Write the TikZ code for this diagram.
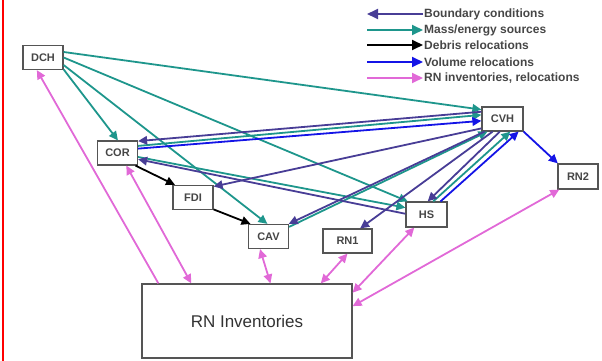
\documentclass[tikz,border=0pt]{standalone}
\usepackage{fontspec}
\setmainfont{Liberation Sans}
\usetikzlibrary{arrows.meta}
\definecolor{bcslate}{RGB}{72,61,150}
\definecolor{msteal}{RGB}{30,150,140}
\definecolor{vrblue}{RGB}{20,20,230}
\definecolor{rnpink}{RGB}{225,105,215}
\definecolor{boxgray}{RGB}{85,85,85}
\definecolor{txtgray}{RGB}{70,70,70}

\begin{document}
\begin{tikzpicture}[x=1pt,y=-1pt,
    comp/.style={draw=boxgray,line width=1.2pt,fill=white,minimum width=40pt,
                 minimum height=24pt,inner sep=0pt,text=txtgray,
                 font=\fontsize{11}{12}\selectfont\bfseries},
    legtxt/.style={anchor=west,inner sep=1pt,text=txtgray,
                   font=\fontsize{12}{13}\selectfont\bfseries},
    flow/.style={line width=1.8pt,-{Triangle[length=9pt,width=8.5pt]}},
    bound/.style={flow,bcslate},
    mass/.style={flow,msteal},
    debris/.style={flow,black},
    volume/.style={flow,vrblue},
    rnflow/.style={line width=1.8pt,rnpink,
                   {Triangle[length=9pt,width=8.5pt]}-{Triangle[length=9pt,width=8.5pt]}},
    legtip/.style={-{Triangle[length=11pt,width=10pt]}}]
    \useasboundingbox (0,0) rectangle (602,361);
    \draw[red,line width=2.5pt] (3,0) -- (3,361);
    % Components
    \node[comp] (dch) at (43,57.5) {DCH};
    \node[comp] (cor) at (117.5,153) {COR};
    \node[comp] (fdi) at (193,197.5) {FDI};
    \node[comp] (cav) at (268.5,236.5) {CAV};
    \node[comp,minimum width=49pt] (rn1) at (347.5,241) {RN1};
    \node[comp,minimum width=41pt,minimum height=25pt] (hs) at (426.5,214.5) {HS};
    \node[comp,minimum width=41pt] (cvh) at (502.5,119) {CVH};
    \node[comp,minimum height=25pt] (rn2) at (578,176.5) {RN2};
    \node[draw=boxgray,line width=1.2pt,minimum width=210pt,minimum height=74pt,
          text=black!80,font=\fontsize{17}{20}\selectfont] (rninv) at (247,321)
        {RN Inventories};
    % RN inventories, relocations
    \draw[line width=1.8pt,rnpink,-{Triangle[length=9pt,width=8.5pt]}]
        (rninv.157) -- (dch.244);
    \draw[rnflow] (cor.-55) -- (rninv.146);
    \draw[rnflow] (cav.236) -- (rninv.58);
    \draw[rnflow] (rn1.south) -- (rninv.27.5);
    \draw[rnflow] (hs.227) -- (rninv.15);
    \draw[rnflow] (rn2.215) -- (rninv.8);
    % Mass/energy sources
    \draw[mass] (dch.15) -- (cvh.156);
    \draw[mass] (dch.east) -- (hs.145);
    \draw[mass] (dch.-30) -- (cor.88);
    \draw[mass] (dch.-20) -- (cav.95);
    \draw[mass] (cor.19) -- (cvh.169);
    \draw[mass] (cor.-11) -- (hs.162);
    \draw[mass] (cav.25) -- (cvh.220);
    \draw[mass] (hs.63) -- (cvh.-58);
    % Boundary conditions
    \draw[bound] (cvh.161) -- (cor.30);
    \draw[bound] (hs.178) -- (cor.-17);
    \draw[bound] (cvh.204) -- (fdi.28);
    \draw[bound] (cvh.215) -- (cav.32);
    \draw[bound] (cvh.232) -- (rn1.45);
    \draw[bound] (cvh.258) -- (hs.85);
    % Debris relocations
    \draw[debris] (cor.-35) -- (fdi.145);
    \draw[debris] (fdi.-30) -- (cav.145);
    % Volume relocations
    \draw[volume] (cor.12) -- (cvh.185);
    \draw[volume] (hs.43) -- (cvh.-38);
    \draw[volume] (cvh.south east) -- (rn2.147);
    % Legend
    \node[legtxt] (lbc) at (423,14) {Boundary conditions};
    \node[legtxt] (lms) at (423,30) {Mass/energy sources};
    \node[legtxt] (ldr) at (423,45) {Debris relocations};
    \node[legtxt] (lvr) at (423,62) {Volume relocations};
    \node[legtxt] (lrn) at (423,78) {RN inventories, relocations};
    \draw[bound,legtip] (lbc.west) -- ([xshift=-56pt]lbc.west);
    \draw[mass,legtip] ([xshift=-56pt]lms.west) -- (lms.west);
    \draw[debris,legtip] ([xshift=-56pt]ldr.west) -- (ldr.west);
    \draw[volume,legtip] ([xshift=-56pt]lvr.west) -- (lvr.west);
    \draw[line width=1.8pt,rnpink,legtip] ([xshift=-56pt]lrn.west) -- (lrn.west);
\end{tikzpicture}
\end{document}
